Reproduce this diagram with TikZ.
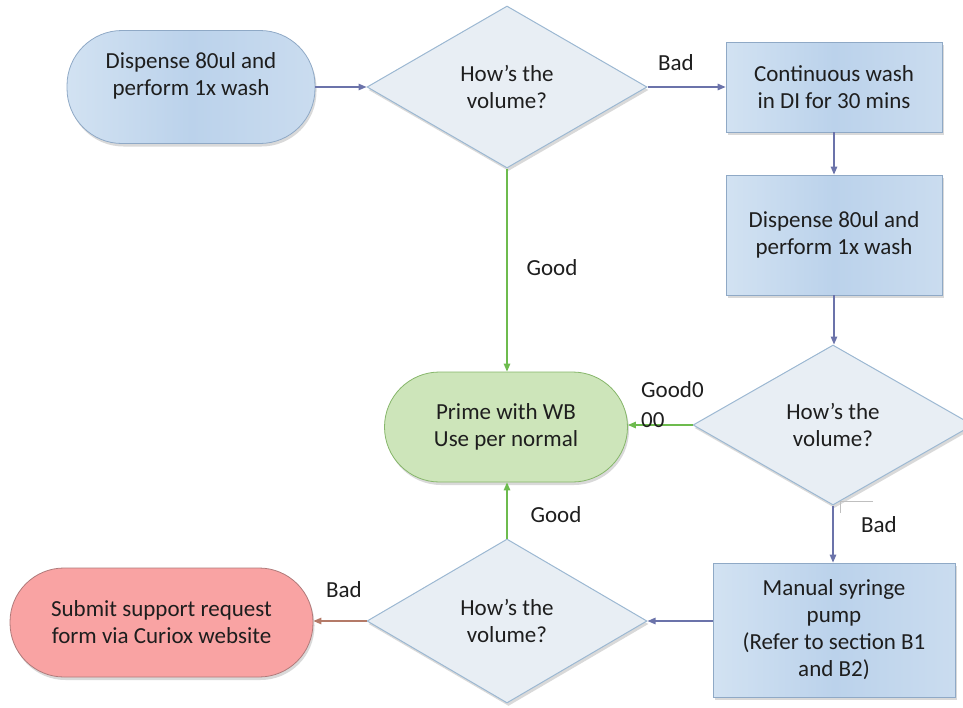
\documentclass[tikz,border=0pt]{standalone}
\usepackage{fontspec}
\setmainfont{Carlito}
\usetikzlibrary{shapes.geometric,arrows.meta,shadows}
\definecolor{txt}{HTML}{1E1E1E}
\definecolor{blueL}{HTML}{D2E2F2}
\definecolor{blueM}{HTML}{BBD2EB}
\definecolor{blueR}{HTML}{CADCEF}
\definecolor{blueB}{HTML}{8FA9C6}
\definecolor{diaF}{HTML}{E8EEF4}
\definecolor{diaB}{HTML}{9CB8D2}
\definecolor{greenF}{HTML}{CDE5BA}
\definecolor{greenB}{HTML}{86B66A}
\definecolor{redF}{HTML}{F9A3A3}
\definecolor{redB}{HTML}{B07A7A}
\definecolor{arrBlue}{HTML}{6B73AA}
\definecolor{arrGreen}{HTML}{6DBB4E}
\definecolor{arrRed}{HTML}{B47A68}
\tikzset{
  every node/.style={font=\fontsize{23}{27}\selectfont, text=txt},
  shad/.style={drop shadow={shadow xshift=1.5pt, shadow yshift=-3pt, opacity=0.15, fill=black}},
  bluefill/.style={left color=blueL, right color=blueR, middle color=blueM},
  stadium/.style={rectangle, rounded corners=55pt, draw=blueB, line width=0.8pt, bluefill, shad, align=center, inner sep=0pt},
  procbox/.style={rectangle, draw=blueB, line width=0.8pt, bluefill, shad, align=center, inner sep=0pt},
  decision/.style={diamond, draw=diaB, fill=diaF, line width=1pt, shad, align=center, inner sep=0pt, minimum width=280pt, minimum height=162pt},
  goodnode/.style={rectangle, rounded corners=55pt, draw=greenB, fill=greenF, line width=0.8pt, shad, align=center, inner sep=0pt},
  badnode/.style={rectangle, rounded corners=54pt, draw=redB, fill=redF, line width=0.8pt, shad, align=center, inner sep=0pt},
  lbl/.style={inner sep=0pt},
  conn/.style={line width=1.3pt, -{Triangle[length=8pt,width=6.5pt]}},
}
\begin{document}
\begin{tikzpicture}[x=1pt,y=-1pt]
\useasboundingbox (0,0) rectangle (963,707);
% nodes
\node[stadium, minimum width=248pt, minimum height=113pt] (s1) at (191,87) {};
\node[lbl, align=center] (s1t) at (191,76) {Dispense 80ul and\\perform 1x wash};
\node[decision] (d1) at (507,87) {How’s the\\volume?};
\node[procbox, minimum width=216pt, minimum height=90pt] (b1) at (834,87) {Continuous wash\\in DI for 30 mins};
\node[procbox, minimum width=216pt, minimum height=120pt] (b2) at (834,235) {Dispense 80ul and\\perform 1x wash};
\node[decision, minimum height=160pt] (d2) at (833,425) {How’s the\\volume?};
\node[goodnode, minimum width=243pt, minimum height=110pt] (g) at (506,427) {Prime with WB\\Use per normal};
\node[procbox, minimum width=242pt, minimum height=134pt] (b3) at (834,630) {Manual syringe\\pump\\(Refer to section B1\\and B2)};
\node[decision, minimum height=164pt] (d3) at (507,621) {How’s the\\volume?};
\node[badnode, minimum width=303pt, minimum height=109pt] (r) at (161.5,622.5) {Submit support request\\form via Curiox website};
% connectors
\draw[conn, arrBlue] (s1.east) -- (d1.west);
\draw[conn, arrBlue] (d1.east) -- (b1.west);
\draw[conn, arrBlue] (b1.south) -- (b2.north);
\draw[conn, arrBlue] (b2.south) -- (b2.south |- d2.north);
\draw[conn, arrGreen] (d1.south) -- (d1.south |- g.north);
\draw[conn, arrGreen] (d2.west) -- (d2.west -| g.east);
\draw[conn, arrBlue] (d2.south) -- (d2.south |- b3.north);
\draw[conn, arrBlue] (b3.west |- d3.east) -- (d3.east);
\draw[conn, arrGreen] (d3.north) -- (d3.north |- g.south);
\draw[conn, arrRed] (d3.west) -- (d3.west -| r.east);
% stray mark
\draw[draw=black!25, line width=0.7pt] (873,501) -- (840,501) -- (840,513);
% labels
\node[lbl] (lb1) at (676,63) {Bad};
\node[lbl] (lg1) at (552,268) {Good};
\node[lbl, align=left, anchor=north west] (lg2) at (641,381) {Good0\\[3pt]00};
\node[lbl] (lb2) at (879,525) {Bad};
\node[lbl] (lg3) at (556,515) {Good};
\node[lbl] (lb3) at (344,590) {Bad};
\end{tikzpicture}
\end{document}
